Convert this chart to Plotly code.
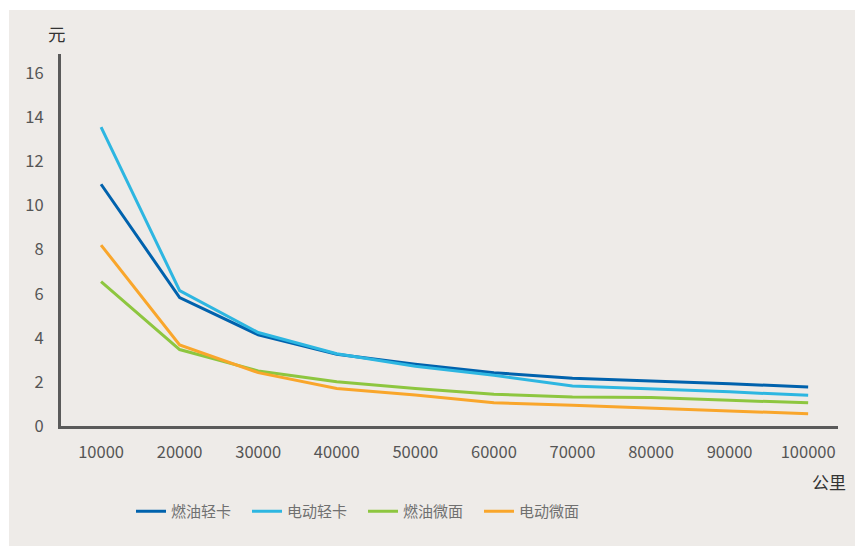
import plotly.graph_objects as go

# 行驶里程（公里）
mileage = [10000, 20000, 30000, 40000, 50000, 60000, 70000, 80000, 90000, 100000]
tick_labels = ["10000", "20000", "30000", "40000", "50000", "60000", "70000", "80000", "90000", "100000"]

# 每公里成本（元）
fuel_light_truck = [10.97, 5.83, 4.14, 3.26, 2.80, 2.42, 2.17, 2.05, 1.92, 1.77]
ev_light_truck = [13.56, 6.14, 4.24, 3.28, 2.71, 2.30, 1.82, 1.70, 1.55, 1.39]
fuel_minivan = [6.55, 3.47, 2.50, 2.01, 1.70, 1.44, 1.32, 1.29, 1.17, 1.05]
ev_minivan = [8.21, 3.68, 2.42, 1.70, 1.41, 1.05, 0.94, 0.80, 0.68, 0.56]

series_names = ["燃油轻卡", "电动轻卡", "燃油微面", "电动微面"]
series_values = [fuel_light_truck, ev_light_truck, fuel_minivan, ev_minivan]
series_colors = ["#0062AD", "#2DB6E1", "#8DC63F", "#F9A62B"]

y_ticks = [0, 2, 4, 6, 8, 10, 12, 14, 16]

BG = "#EEEBE8"
TEXT = "#555555"
FONT = "Noto Sans CJK SC, Noto Sans, sans-serif"

fig = go.Figure()
for name, vals, color in zip(series_names, series_values, series_colors):
    fig.add_trace(go.Scatter(
        x=mileage, y=vals, name=name, mode="lines",
        line=dict(color=color, width=3),
    ))

W, H = 855, 546
L, R, T, B = 61, 17, 54, 120
pw, ph = W - L - R, H - T - B

def px_x(p):
    return (p - L) / pw

def px_y(p):
    return (H - B - p) / ph

fig.update_layout(
    width=W, height=H,
    margin=dict(l=L, r=R, t=T, b=B, pad=0),
    paper_bgcolor="white",
    plot_bgcolor="rgba(0,0,0,0)",
    font=dict(family=FONT, color=TEXT, size=16),
    showlegend=True,
    legend=dict(
        orientation="h",
        x=px_x(131), y=px_y(495), xanchor="left", yanchor="top",
        font=dict(size=15, color="#707070"),
        entrywidth=71, entrywidthmode="pixels",
        bgcolor="rgba(0,0,0,0)",
    ),
    xaxis=dict(
        range=[4900, 103800],
        tickmode="array", tickvals=mileage, ticktext=tick_labels,
        showgrid=False, zeroline=False,
        showline=True, linecolor="#5A5A5A", linewidth=3,
        ticks="", ticklabelstandoff=9,
        tickfont=dict(size=16.5, color=TEXT),
        fixedrange=True,
    ),
    yaxis=dict(
        range=[0, 16.88],
        tickmode="array", tickvals=y_ticks,
        showgrid=False, zeroline=False,
        showline=True, linecolor="#5A5A5A", linewidth=3,
        ticks="", ticklabelstandoff=11,
        tickfont=dict(size=16.5, color=TEXT),
        fixedrange=True,
    ),
    shapes=[dict(
        type="rect", xref="paper", yref="paper", layer="below",
        x0=px_x(9), x1=px_x(856), y0=px_y(547), y1=px_y(10),
        fillcolor=BG, line=dict(width=0),
    )],
    annotations=[
        dict(text="元", xref="paper", yref="paper", x=px_x(57), y=px_y(33),
             xanchor="center", yanchor="middle", showarrow=False,
             font=dict(size=17.5, color="#333333")),
        dict(text="公里", xref="paper", yref="paper", x=px_x(829), y=px_y(481),
             xanchor="center", yanchor="middle", showarrow=False,
             font=dict(size=17, color="#333333")),
    ],
)

fig.write_html("out.html")
